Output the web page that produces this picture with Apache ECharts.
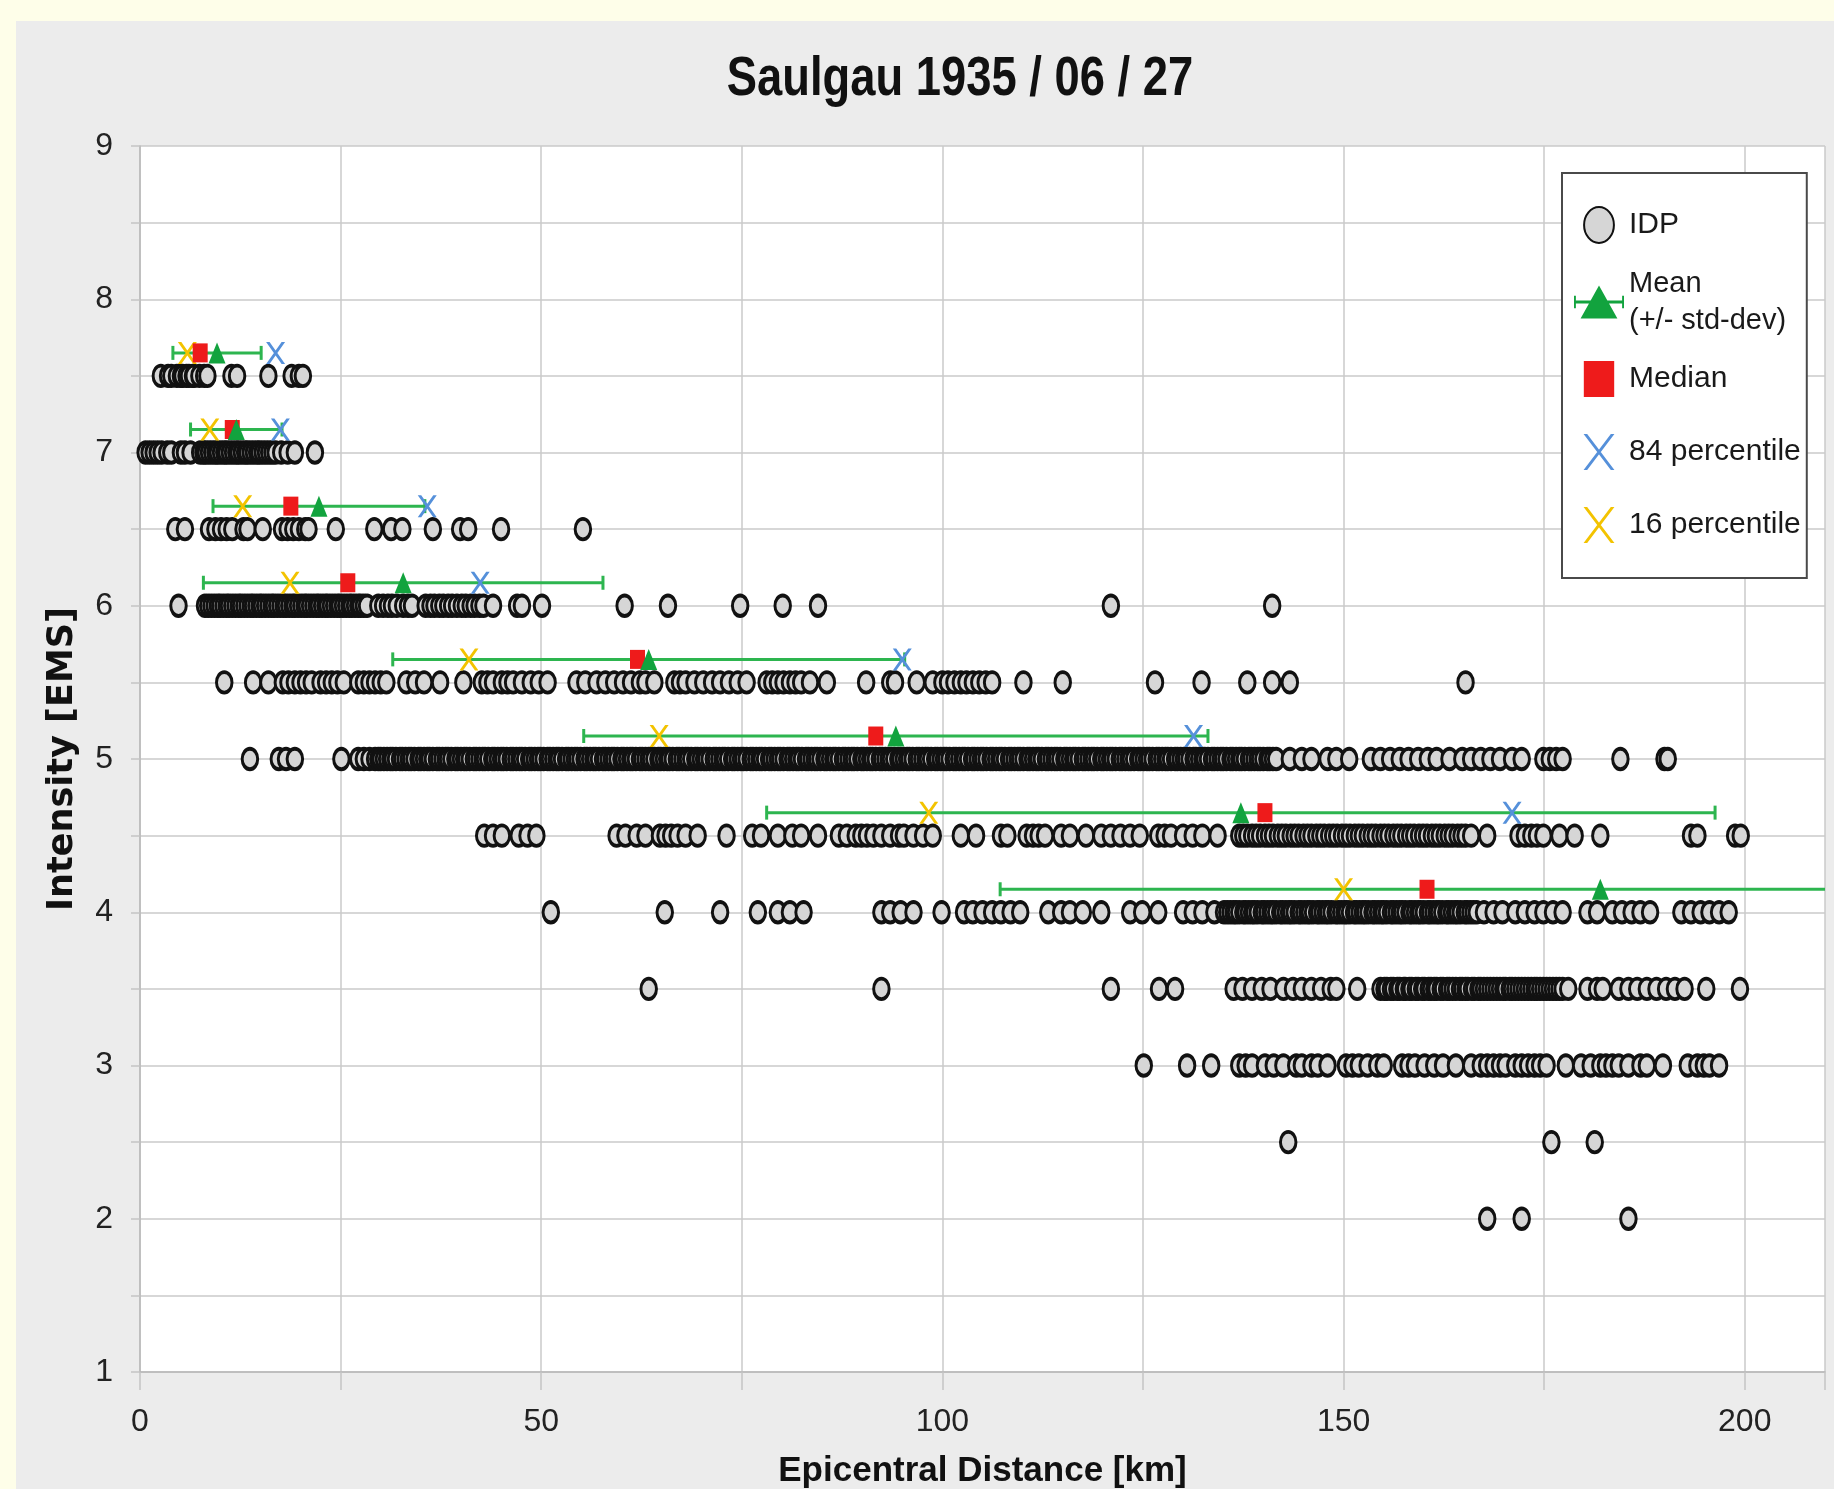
<!DOCTYPE html>
<html>
<head>
<meta charset="utf-8">
<title>Saulgau 1935 / 06 / 27</title>
<script src="https://cdn.jsdelivr.net/npm/echarts@6/dist/echarts.min.js"></script>
<style>
  html, body { margin: 0; padding: 0; background: #fefee9; }
  #chart { width: 1834px; height: 1489px; }
</style>
</head>
<body>
<div id="chart"></div>
<script>
// intensity levels of the IDP rows
const idpLevels = [7.5, 7, 6.5, 6, 5.5, 5, 4.5, 4, 3.5, 3, 2.5, 2]

// epicentral distances [km] of the IDPs, one array per intensity row
const row75 = [2.6, 3.5, 3.9, 4.6, 5.1, 5.3, 5.8, 6.1, 6.6, 6.7, 7.4, 8.0, 8.4, 11.4, 12.1, 16.0, 18.9, 19.8, 20.3]
const row70 = [0.7, 1.2, 1.7, 2.2, 2.7, 3.4, 3.9, 5.1, 5.6, 6.3, 7.5, 7.9, 8.2, 8.6, 9.0, 9.4, 9.7, 10.1, 10.5, 10.8,
    11.2, 11.6, 12.0, 12.3, 12.7, 13.1, 13.4, 13.8, 14.2, 14.6, 14.9, 15.3, 15.7, 16.1, 16.5, 16.9, 17.6, 18.4, 19.3, 21.8]
const row65 = [4.4, 5.6, 8.6, 9.4, 10.1, 10.8, 11.5, 12.9, 13.4, 15.3, 17.7, 18.4, 19.1, 19.8, 20.6, 21.0, 24.4, 29.2,
    31.3, 32.7, 36.5, 39.9, 40.9, 45.0, 55.2]
const row60 = [4.8, 8.1, 8.5, 8.9, 9.3, 9.7, 10.0, 10.4, 10.8, 11.1, 11.5, 11.9, 12.3, 12.6, 13.0, 13.4, 13.8, 14.1,
    14.5, 14.9, 15.2, 15.6, 16.0, 16.4, 16.7, 17.1, 17.5, 17.9, 18.2, 18.6, 19.0, 19.3, 19.7, 20.1, 20.5, 20.8, 21.2,
    21.6, 22.0, 22.3, 22.7, 23.1, 23.4, 23.8, 24.2, 24.6, 24.9, 25.3, 25.7, 26.1, 26.4, 26.8, 27.2, 27.5, 27.9, 28.3,
    29.7, 30.3, 30.9, 31.4, 32.0, 32.8, 33.4, 33.9, 35.6, 36.2, 36.7, 37.3, 37.8, 38.4, 38.9, 39.5, 40.1, 40.6, 41.2,
    41.7, 42.3, 42.8, 44.0, 47.0, 47.6, 50.1, 60.4, 65.8, 74.8, 80.1, 84.5, 121.0, 141.1]
const row55 = [10.5, 14.1, 16.0, 17.8, 18.5, 19.3, 20.0, 20.7, 21.4, 22.5, 23.2, 23.9, 24.6, 25.4, 27.2, 27.9, 28.6,
    29.3, 30.0, 30.7, 33.2, 34.3, 35.4, 37.4, 40.3, 42.6, 43.3, 44.0, 45.1, 45.8, 46.5, 47.6, 48.7, 49.7, 50.8, 54.4,
    55.5, 56.9, 58.0, 59.1, 60.2, 61.2, 62.3, 63.0, 64.1, 66.6, 67.3, 68.0, 69.1, 70.2, 71.3, 72.3, 73.4, 74.5, 75.6,
    78.1, 78.8, 79.5, 80.2, 81.0, 81.7, 82.4, 83.5, 85.6, 90.5, 93.5, 94.1, 96.8, 98.8, 100.0, 100.7, 101.5, 102.3,
    103.0, 103.8, 104.6, 105.4, 106.2, 110.1, 115.0, 126.5, 132.3, 138.0, 141.1, 143.3, 165.2]
const row50 = [13.7, 17.3, 18.2, 19.3, 25.1, 27.2, 27.9, 28.6,
    29.3, 29.7, 30.0, 30.4, 30.8, 31.2, 31.5, 31.9, 32.4, 32.7, 33.1, 33.5, 33.8, 34.2, 34.7, 35.0, 35.4, 35.8, 36.1,
    36.5, 37.0, 37.3, 37.7, 38.1, 38.4, 38.8, 39.3, 39.6, 40.0, 40.4, 40.7, 41.1, 41.6, 41.9, 42.3, 42.7, 43.0, 43.4,
    43.9, 44.2, 44.6, 45.0, 45.3, 45.7, 46.2, 46.5, 46.9, 47.3, 47.6, 48.0, 48.5, 48.8, 49.2, 49.6, 49.9, 50.3, 50.8,
    51.1, 51.5, 51.9, 52.2, 52.6, 53.1, 53.4, 53.8, 54.2, 54.5, 54.9, 55.4, 55.7, 56.1, 56.5, 56.8, 57.2, 57.7, 58.0,
    58.4, 58.8, 59.1, 59.5, 60.0, 60.3, 60.7, 61.1, 61.4, 61.8, 62.3, 62.6, 63.0, 63.4, 63.7, 64.1, 64.6, 64.9, 65.3,
    65.7, 66.0, 66.4, 66.9, 67.2, 67.6, 68.0, 68.3, 68.7, 69.2, 69.5, 69.9, 70.3, 70.6, 71.0, 71.5, 71.8, 72.2, 72.6,
    72.9, 73.3, 73.8, 74.1, 74.5, 74.9, 75.2, 75.6, 76.1, 76.4, 76.8, 77.2, 77.5, 77.9, 78.4, 78.7, 79.1, 79.5, 79.8,
    80.2, 80.7, 81.0, 81.4, 81.8, 82.1, 82.5, 83.0, 83.3, 83.7, 84.1, 84.4, 84.8, 85.3, 85.6, 86.0, 86.4, 86.7, 87.1,
    87.6, 87.9, 88.3, 88.7, 89.0, 89.4, 89.9, 90.2, 90.6, 91.0, 91.3, 91.7, 92.2, 92.5, 92.9, 93.3, 93.6, 94.0, 94.5,
    94.8, 95.2, 95.6, 95.9, 96.3, 96.8, 97.1, 97.5, 97.9, 98.2, 98.6, 99.1, 99.4, 99.8, 100.2, 100.5, 100.9, 101.4,
    101.7, 102.1, 102.5, 102.8, 103.2, 103.7, 104.0, 104.4, 104.8, 105.1, 105.5, 106.0, 106.3, 106.7, 107.1, 107.4,
    107.8, 108.3, 108.6, 109.0, 109.4, 109.7, 110.1, 110.6, 110.9, 111.3, 111.7, 112.0, 112.4, 112.9, 113.2, 113.6,
    114.0, 114.3, 114.7, 115.2, 115.5, 115.9, 116.3, 116.6, 117.0, 117.5, 117.8, 118.2, 118.6, 118.9, 119.3, 119.8,
    120.1, 120.5, 120.9, 121.2, 121.6, 122.1, 122.4, 122.8, 123.2, 123.5, 123.9, 124.4, 124.7, 125.1, 125.5, 125.8,
    126.2, 126.7, 127.0, 127.4, 127.8, 128.1, 128.5, 129.0, 129.3, 129.7, 130.1, 130.4, 130.8, 131.3, 131.6, 132.0,
    132.4, 132.7, 133.1, 133.6, 133.9, 134.3, 134.7, 135.0, 135.4, 135.9, 136.2, 136.6, 137.0, 137.3, 137.7, 138.2,
    138.5, 138.9, 139.3, 139.6, 140.0, 140.5, 140.8, 141.2, 141.6,
    143.3, 144.8, 146.0, 148.0, 149.1, 150.7, 153.4, 154.6, 155.8, 157.0, 158.1, 159.3, 160.5, 161.6, 163.2, 164.8,
    165.9, 167.1, 168.3, 169.5, 171.0, 172.2, 174.9, 175.7, 176.5, 177.3, 184.5, 190.0, 190.4]
const row45 = [42.9, 44.0, 45.1, 47.2, 48.3, 49.4, 59.4, 60.5, 61.9, 63.0, 64.8, 65.5, 66.2, 67.0, 68.0, 69.5, 73.1,
    76.3, 77.4, 79.5, 81.3, 82.4, 84.5, 87.1, 88.1, 89.2, 89.9, 90.6, 91.4, 92.4, 93.5, 94.6, 95.2, 96.4, 97.6, 98.8,
    102.3, 104.2, 107.3, 108.1, 110.5, 111.3, 112.0, 112.8, 114.8, 115.9, 117.9, 119.8, 121.0, 122.2, 123.4, 124.6,
    126.9, 127.7, 128.5, 130.0, 131.2, 132.4, 134.3, 137.0, 137.5, 138.0, 138.6, 139.1, 139.6, 140.2, 140.7, 141.2,
    141.8, 142.3, 142.8, 143.4, 143.9, 144.4, 145.0, 145.5, 146.0, 146.6, 147.1, 147.6, 148.2, 148.7, 149.2, 149.8,
    150.3, 150.8, 151.4, 151.9, 152.4, 153.0, 153.5, 154.0, 154.6, 155.1, 155.6, 156.2, 156.7, 157.2, 157.8, 158.3,
    158.8, 159.4, 159.9, 160.4, 161.0, 161.5, 162.0, 162.6, 163.1, 163.6, 164.2, 164.7, 165.2, 165.9, 167.9, 171.8,
    172.6, 173.4, 174.1, 174.9, 176.9, 178.8, 182.0, 193.3, 194.1, 198.8, 199.5]
const row40 = [51.2, 65.4, 72.3, 77.0, 79.5, 81.0, 82.7, 92.4, 93.5, 94.8, 96.4, 99.9, 102.7, 103.8, 105.0, 106.2,
    107.3, 108.5, 109.7, 113.2, 114.8, 115.9, 117.5, 119.8, 123.4, 124.9, 126.9, 130.0, 131.2, 132.4, 133.9, 135.1,
    135.5, 135.9, 136.3, 136.6, 137.0, 137.5, 137.8, 138.2, 138.6, 138.9, 139.3, 139.8, 140.1, 140.5, 140.9, 141.2,
    141.6, 142.1, 142.4, 142.8, 143.2, 143.5, 143.9, 144.4, 144.7, 145.1, 145.5, 145.8, 146.2, 146.7, 147.0, 147.4,
    147.8, 148.1, 148.5, 149.0, 149.3, 149.7, 150.1, 150.4, 150.8, 151.3, 151.6, 152.0, 152.4, 152.7, 153.1, 153.6,
    153.9, 154.3, 154.7, 155.0, 155.4, 155.9, 156.2, 156.6, 157.0, 157.3, 157.7, 158.2, 158.5, 158.9, 159.3, 159.6,
    160.0, 160.5, 160.8, 161.2, 161.6, 161.9, 162.3, 162.8, 163.1, 163.5, 163.9, 164.2, 164.6, 165.1, 165.4, 165.8,
    166.2, 166.6, 167.5, 168.7, 169.8, 171.4, 172.6, 173.8, 174.9, 176.1, 177.3, 180.4, 181.6, 183.5, 184.7, 185.9,
    187.0, 188.2, 192.1, 193.3, 194.5, 195.6, 196.8, 198.0]
const row35 = [63.4, 92.4, 121.0, 127.0, 129.0, 136.3, 137.4, 138.6, 139.8, 140.9, 142.5, 143.7, 144.8, 146.0, 147.2,
    148.4, 149.1, 151.7, 154.6, 155.1, 155.4, 155.9, 156.2, 156.7, 157.0, 157.5, 157.7, 158.2, 158.5, 159.0, 159.3,
    159.8, 160.1, 160.6, 160.9, 161.3, 161.6, 162.1, 162.4, 162.9, 163.2, 163.6, 164.0, 164.5, 164.8, 165.2, 165.5,
    166.0, 166.3, 166.8, 167.1, 167.5, 167.9, 168.3, 168.7, 169.1, 169.5, 169.9, 170.2, 170.7, 171.0, 171.4, 171.8,
    172.2, 172.6, 173.0, 173.4, 173.8, 174.1, 174.5, 174.9, 175.3, 175.7, 176.1, 176.5, 176.9, 177.3, 178.0, 180.4,
    181.6, 182.3, 184.3, 185.5, 186.6, 187.8, 189.0, 190.2, 191.3, 192.5, 195.2, 199.4]
const row30 = [125.1, 130.5, 133.5, 137.0, 137.8, 138.6, 140.2, 141.3, 142.5, 144.1, 144.8, 146.0, 146.8, 148.0, 150.3,
    151.1, 151.9, 153.0, 154.2, 155.0, 157.3, 158.1, 158.9, 160.1, 161.3, 162.4, 164.0, 165.9, 167.1, 167.9, 168.7,
    169.5, 170.2, 171.4, 172.2, 173.0, 173.8, 174.5, 175.3, 177.7, 179.6, 180.8, 182.0, 182.7, 183.5, 184.3, 185.5,
    187.0, 187.8, 189.8, 192.9, 194.1, 194.9, 195.6, 196.8]
const row25 = [143.1, 175.9, 181.3]
const row20 = [167.9, 172.2, 185.5]
const idpRows = [row75, row70, row65, row60, row55, row50, row45, row40, row35, row30, row25, row20]

// statistics per intensity level [km]
const statLevels = [7.5, 7, 6.5, 6, 5.5, 5, 4.5, 4]
const meanKm = [9.6, 12.0, 22.3, 32.8, 63.4, 94.2, 137.2, 182.0]
const stdKm = [5.5, 5.7, 13.2, 24.9, 31.9, 38.9, 59.1, 74.8]
const medianKm = [7.5, 11.5, 18.8, 25.9, 62.0, 91.7, 140.2, 160.4]
const p84Km = [16.9, 17.5, 35.8, 42.4, 95.0, 131.3, 171.0, null]
const p16Km = [5.9, 8.7, 12.8, 18.7, 41.0, 64.7, 98.3, 150.0]

// the statistic markers sit slightly above their row
const STAT_OFFSET = 0.15

const SANS = "'Liberation Sans', Arial, sans-serif"
const X_PATH = 'path://M0,0L5.5,0L30,35L24.5,35ZM24.5,0L30,0L5.5,35L0,35Z'
const X_LEGEND = 'path://M0,0L3.5,0L30,35L26.5,35ZM26.5,0L30,0L3.5,35L0,35Z'

const chart = echarts.init(document.getElementById('chart'), null, { renderer: 'canvas' })

const idpData = []
idpRows.forEach((row, i) => {
    row.forEach((d) => idpData.push([d, idpLevels[i]]))
})
const statPoints = (arr) => arr.map((v, i) => (v == null ? null : [v, statLevels[i] + STAT_OFFSET])).filter((p) => p)

// single-line legend entries get a tall line so all rows are evenly spaced
const singleText = { lineHeight: 66 }

const option = {
    backgroundColor: '#fefee9',
    animation: false,
    graphic: [
        {
            type: 'rect',
            z: -10,
            shape: { x: 16, y: 21, width: 1818, height: 1468 },
            style: { fill: '#ececec' },
        },
        {
            // title, squeezed horizontally like the original
            type: 'text',
            x: 960,
            y: 80,
            scaleX: 0.81,
            style: {
                text: 'Saulgau 1935 / 06 / 27',
                fontFamily: SANS,
                fontWeight: 'bold',
                fontSize: 56,
                fill: '#111',
                align: 'center',
                verticalAlign: 'middle',
            },
        },
    ],
    grid: {
        left: 140,
        right: 9,
        top: 146,
        bottom: 117,
        outerBoundsMode: 'none',
        show: true,
        backgroundColor: '#ffffff',
        borderWidth: 0,
    },
    legend: {
        orient: 'vertical',
        left: 1562,
        top: 173,
        padding: [19, 6, 20, 12],
        backgroundColor: '#ffffff',
        borderColor: '#4a4a4a',
        borderWidth: 2,
        itemWidth: 50,
        itemHeight: 36,
        itemGap: 7,
        textStyle: { fontSize: 30, color: '#1a1a1a', fontFamily: SANS },
        data: [
            { name: 'IDP', icon: 'path://M0,17.5a14.5,17.5 0 1,0 29,0a14.5,17.5 0 1,0 -29,0z', textStyle: singleText },
            {
                name: 'Mean\n(+/- std-dev)',
                icon: 'path://M0,11h2v5h49v-5h2v13h-2v-5h-49v5h-2zM7,35L26.5,0L46,35z',
                textStyle: { fontSize: 29, lineHeight: 37 },
            },
            { name: 'Median', icon: 'path://M0,0h27v32h-27z', textStyle: singleText },
            { name: '84 percentile', icon: X_LEGEND, textStyle: singleText },
            { name: '16 percentile', icon: X_LEGEND, textStyle: singleText },
        ],
    },
    xAxis: {
        type: 'value',
        min: 0,
        max: 210,
        interval: 25,
        name: 'Epicentral Distance [km]',
        nameLocation: 'middle',
        nameGap: 82,
        nameTextStyle: { fontFamily: SANS, fontWeight: 'bold', fontSize: 35, color: '#111' },
        axisLine: { show: true, lineStyle: { color: '#b8b8b8', width: 1.5 } },
        axisTick: { show: true, length: 18, lineStyle: { color: '#c4c4c4', width: 1.5 } },
        axisLabel: {
            margin: 34,
            fontFamily: SANS,
            fontSize: 32,
            color: '#222',
            formatter: (v) => (v % 50 === 0 ? String(v) : ''),
        },
        splitLine: { show: true, lineStyle: { color: '#cacaca', width: 1.5 } },
    },
    yAxis: {
        type: 'value',
        min: 1,
        max: 9,
        interval: 0.5,
        name: 'Intensity [EMS]',
        nameLocation: 'middle',
        nameRotate: 90,
        nameGap: 60,
        nameTextStyle: { fontFamily: "'DejaVu Sans', sans-serif", fontWeight: 'bold', fontSize: 35, color: '#111' },
        axisLine: { show: true, lineStyle: { color: '#b8b8b8', width: 1.5 } },
        axisTick: { show: true, length: 9, lineStyle: { color: '#c4c4c4', width: 1.5 } },
        axisLabel: {
            margin: 27,
            fontFamily: SANS,
            fontSize: 32,
            color: '#222',
            formatter: (v) => (Number.isInteger(v) ? String(v) : ''),
        },
        splitLine: { show: true, lineStyle: { color: '#cacaca', width: 1.5 } },
    },
    series: [
        {
            name: 'IDP',
            type: 'scatter',
            symbol: 'circle',
            symbolSize: [15.5, 20.5],
            itemStyle: { color: '#d6d6d6', borderColor: '#111', borderWidth: 3.4, opacity: 1 },
            data: idpData,
            z: 2,
        },
        {
            // std-dev error bars around the mean
            name: 'errorbar',
            type: 'custom',
            clip: true,
            z: 3,
            encode: { x: [0, 2], y: 1 },
            data: statLevels.map((lv, i) => [meanKm[i] - stdKm[i], lv + STAT_OFFSET, meanKm[i] + stdKm[i]]),
            renderItem: (params, api) => {
                const lo = api.coord([api.value(0), api.value(1)])
                const hi = api.coord([api.value(2), api.value(1)])
                const cap = 7
                const style = { stroke: '#2db54f', lineWidth: 3 }
                return {
                    type: 'group',
                    children: [
                        { type: 'line', shape: { x1: lo[0], y1: lo[1], x2: hi[0], y2: hi[1] }, style },
                        { type: 'line', shape: { x1: lo[0], y1: lo[1] - cap, x2: lo[0], y2: lo[1] + cap }, style },
                        { type: 'line', shape: { x1: hi[0], y1: hi[1] - cap, x2: hi[0], y2: hi[1] + cap }, style },
                    ],
                }
            },
        },
        {
            name: '16 percentile',
            type: 'scatter',
            symbol: X_PATH,
            symbolSize: [19, 22],
            itemStyle: { color: '#f3c300', opacity: 1 },
            data: statPoints(p16Km),
            z: 4,
        },
        {
            name: '84 percentile',
            type: 'scatter',
            symbol: X_PATH,
            symbolSize: [19, 22],
            itemStyle: { color: '#5590da', opacity: 1 },
            data: statPoints(p84Km),
            z: 4,
        },
        {
            name: 'Median',
            type: 'scatter',
            symbol: 'rect',
            symbolSize: [15, 19],
            itemStyle: { color: '#ee1b1b', opacity: 1 },
            data: statPoints(medianKm),
            z: 5,
        },
        {
            name: 'Mean\n(+/- std-dev)',
            type: 'scatter',
            symbol: 'triangle',
            symbolSize: [17, 21],
            itemStyle: { color: '#12a33e', opacity: 1 },
            data: statPoints(meanKm),
            z: 6,
        },
    ],
}

chart.setOption(option)
</script>
</body>
</html>
